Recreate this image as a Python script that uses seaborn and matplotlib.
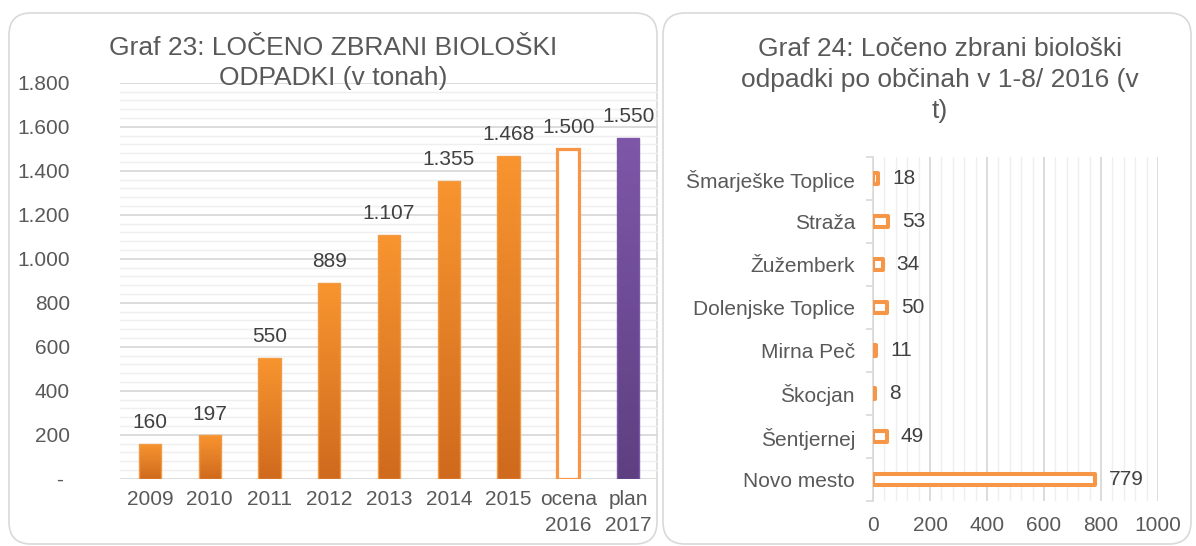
import numpy as np
import pandas as pd
import matplotlib
matplotlib.use("Agg")
import matplotlib.pyplot as plt
import seaborn as sns
from matplotlib.patches import FancyBboxPatch
from matplotlib.colors import LinearSegmentedColormap
from matplotlib.ticker import MultipleLocator, FixedLocator

# ---- data -------------------------------------------------------------
years = ["2009", "2010", "2011", "2012", "2013", "2014", "2015",
         "ocena\n2016", "plan\n2017"]
tonnes = [160, 197, 550, 889, 1107, 1355, 1468, 1500, 1550]
y_ticks = [0, 200, 400, 600, 800, 1000, 1200, 1400, 1600, 1800]

municipalities = ["Šmarješke Toplice", "Straža", "Žužemberk",
                  "Dolenjske Toplice", "Mirna Peč", "Škocjan",
                  "Šentjernej", "Novo mesto"]
municipal_tonnes = [18, 53, 34, 50, 11, 8, 49, 779]
x_ticks = [0, 200, 400, 600, 800, 1000]

title_left = "Graf 23: LOČENO ZBRANI BIOLOŠKI\nODPADKI (v tonah)"
title_right = "Graf 24: Ločeno zbrani biološki\nodpadki po občinah v 1-8/ 2016 (v\nt)"

# ---- style ------------------------------------------------------------
sns.set_theme(style="white")
plt.rcParams["font.family"] = ["Liberation Sans", "DejaVu Sans"]

TXT = "#595959"
VAL = "#404040"
GRID_MAJ = "#D9D9D9"
GRID_MIN = "#EFEFEF"
ORANGE_TOP, ORANGE_BOT = "#F8952F", "#CF6A1E"
PURPLE_TOP, PURPLE_BOT = "#7E57A8", "#5E4081"
OUTLINE = "#F79646"
FS = 15

W, H, DPI = 1196, 546, 100
fig = plt.figure(figsize=(W / DPI, H / DPI), dpi=DPI)
fig.patch.set_facecolor("white")


def px_axes(x0, y_top, x1, y_bot):
    a = fig.add_axes([x0 / W, 1 - y_bot / H, (x1 - x0) / W, (y_bot - y_top) / H])
    a.patch.set_alpha(0)
    a.set_zorder(2)
    return a


# rounded panel frames
for (x0, y0, x1, y1) in [(9, 13, 657, 544), (663, 13, 1191, 544)]:
    fig.patches.append(FancyBboxPatch(
        (x0 / DPI, (H - y1) / DPI), (x1 - x0) / DPI, (y1 - y0) / DPI,
        boxstyle="round,pad=0,rounding_size=0.22",
        transform=fig.dpi_scale_trans, facecolor="white",
        edgecolor=GRID_MAJ, linewidth=1.2, zorder=-5))

# ---- left chart -------------------------------------------------------
ax1 = px_axes(120, 82.7, 658, 478.7)
df1 = pd.DataFrame({"leto": years, "t": tonnes})
face = [ORANGE_BOT] * 7 + ["white", PURPLE_BOT]
sns.barplot(data=df1, x="leto", y="t", hue="leto", palette=face,
            legend=False, width=0.37, ax=ax1, saturation=1, zorder=3)

ax1.set_ylim(0, 1800)
ax1.set_xlim(-0.5, len(years) - 0.5)
ax1.yaxis.set_major_locator(FixedLocator(y_ticks))
ax1.yaxis.set_minor_locator(MultipleLocator(40))
ax1.set_yticklabels(["- " if v == 0 else f"{v:,}".replace(",", ".") for v in y_ticks])
ax1.grid(axis="y", which="major", color=GRID_MAJ, linewidth=1.3, zorder=0)
ax1.grid(axis="y", which="minor", color=GRID_MIN, linewidth=1.0, zorder=0)
ax1.set_axisbelow(True)
for s in ax1.spines.values():
    s.set_visible(False)
ax1.tick_params(axis="y", which="both", length=0, pad=36, labelsize=FS, labelcolor=TXT)
ax1.tick_params(axis="x", length=0, pad=8, labelsize=FS, labelcolor=TXT)
for t in ax1.get_xticklabels():
    t.set_linespacing(1.5)
ax1.set_xlabel("")
ax1.set_ylabel("")

grad = np.linspace(0, 1, 256).reshape(-1, 1)
bars = list(ax1.patches)
for i, (patch, v) in enumerate(zip(bars, tonnes)):
    x0, w = patch.get_x(), patch.get_width()
    if i == 7:
        patch.set_facecolor("white")
        patch.set_edgecolor(OUTLINE)
        patch.set_linewidth(2.3)
        patch.set_zorder(4)
    else:
        top, bot = (PURPLE_TOP, PURPLE_BOT) if i == 8 else (ORANGE_TOP, ORANGE_BOT)
        cmap = LinearSegmentedColormap.from_list(f"g{i}", [bot, top])
        im = ax1.imshow(grad, cmap=cmap, origin="lower", aspect="auto",
                        extent=(x0, x0 + w, 0, v), zorder=3.5,
                        interpolation="bilinear")
        im.set_clip_path(patch)
        patch.set_facecolor("none")
        patch.set_edgecolor("#F39A45" if i < 8 else "#7E57A8")
        patch.set_linewidth(1.0)
        patch.set_zorder(4)
    ax1.annotate(f"{v:,}".replace(",", "."), (x0 + w / 2, v),
                 xytext=(0, 8.5), textcoords="offset points",
                 ha="center", va="bottom", fontsize=FS, color=VAL)
ax1.set_ylim(0, 1800)
ax1.set_xlim(-0.5, len(years) - 0.5)

fig.text(333 / W, 1 - 63 / H, title_left, ha="center", va="center",
         fontsize=19, color=TXT, linespacing=1.35)

# ---- right chart ------------------------------------------------------
ax2 = px_axes(873, 157, 1158, 501)
df2 = pd.DataFrame({"obcina": municipalities, "t": municipal_tonnes})
sns.barplot(data=df2, x="t", y="obcina", orient="h", color="white",
            edgecolor=OUTLINE, linewidth=2.9, width=0.26, ax=ax2,
            saturation=1, zorder=3)
for p in ax2.patches:
    p.set_facecolor("white")
    p.set_edgecolor(OUTLINE)
    p.set_joinstyle("round")

ax2.set_xlim(0, 1000)
ax2.set_ylim(len(municipalities) - 0.5, -0.5)
ax2.xaxis.set_major_locator(FixedLocator(x_ticks))
ax2.xaxis.set_minor_locator(MultipleLocator(40))
ax2.set_xticklabels([str(v) for v in x_ticks])
ax2.yaxis.set_minor_locator(FixedLocator(np.arange(-0.5, len(municipalities), 1.0)))
ax2.grid(axis="x", which="major", color=GRID_MAJ, linewidth=1.3, zorder=0)
ax2.grid(axis="x", which="minor", color=GRID_MIN, linewidth=1.0, zorder=0)
ax2.grid(axis="y", visible=False, which="both")
ax2.set_axisbelow(True)
for name, s in ax2.spines.items():
    s.set_visible(name == "left")
ax2.spines["left"].set_color(GRID_MAJ)
ax2.spines["left"].set_linewidth(1.2)
ax2.tick_params(axis="y", which="major", length=0, pad=13, labelsize=FS, labelcolor=TXT)
ax2.tick_params(axis="y", which="minor", length=5, width=1.2, color=GRID_MAJ, left=True)
ax2.tick_params(axis="x", which="both", length=0, pad=11, labelsize=FS, labelcolor=TXT)
ax2.set_xlabel("")
ax2.set_ylabel("")

for i, v in enumerate(municipal_tonnes):
    ax2.annotate(str(v), (v, i), xytext=(10, 0), textcoords="offset points",
                 ha="left", va="center", fontsize=FS, color=VAL)

fig.text(940 / W, 1 - 80 / H, title_right, ha="center", va="center",
         fontsize=19, color=TXT, linespacing=1.35)

fig.savefig("out.png", dpi=DPI, facecolor="white")
